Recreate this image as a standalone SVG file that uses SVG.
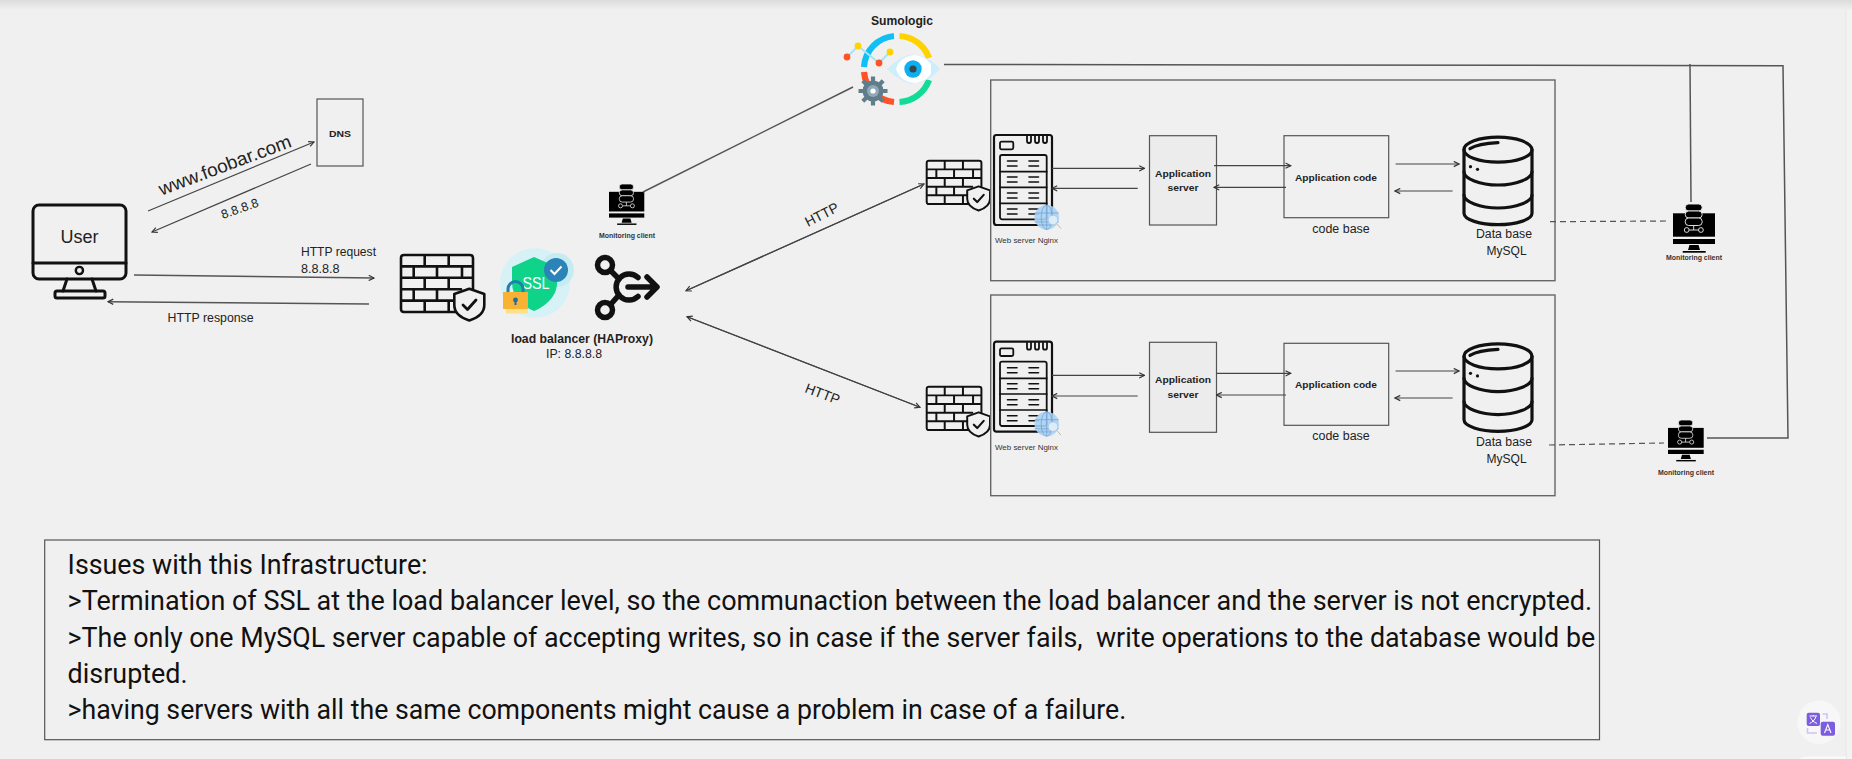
<svg xmlns="http://www.w3.org/2000/svg" width="1852" height="759" viewBox="0 0 1852 759">
<style>
text{font-family:"Liberation Sans",Arial,sans-serif;fill:#222;}
.b{font-weight:bold;}
.m{text-anchor:middle;}
.small{font-size:7.5px;fill:#333;}
.lab{font-size:13px;}
.issue{font-family:Roboto,"Liberation Sans",sans-serif;font-size:27px;fill:#111;}
.box{fill:none;stroke:#666;stroke-width:1.4;}
.cbox{fill:none;stroke:#555;stroke-width:1.2;}
.con{fill:none;stroke:#444;stroke-width:1.2;}
.thick{fill:none;stroke:#555;stroke-width:1.5;}
.arr{marker-end:url(#ah);}
.dash{fill:none;stroke:#555;stroke-width:1.2;stroke-dasharray:6 4;}
.ic{fill:none;stroke:#111;stroke-linecap:round;stroke-linejoin:round;}
</style>
<defs>
<linearGradient id="topg" x1="0" y1="0" x2="0" y2="1"><stop offset="0" stop-color="#dcdcdc"/><stop offset="1" stop-color="#f0f0f0"/></linearGradient>
<marker id="ah" viewBox="0 0 8 8" refX="7" refY="4" markerWidth="7" markerHeight="7" markerUnits="userSpaceOnUse" orient="auto"><path d="M1,1 L7,4 L1,7" fill="none" stroke="#333" stroke-width="1.3"/></marker>
<g id="wall">
<path class="ic" stroke-width="2.6" d="M55,57 H3 Q0,57 0,54 V3 Q0,0 3,0 H69 Q72,0 72,3 V35 M0,11.4 H72 M0,22.8 H72 M0,34.2 H60 M0,45.6 H55 M23.7,0 V11.4 M47.7,0 V11.4 M12.7,11.4 V22.8 M36,11.4 V22.8 M61,11.4 V22.8 M23.7,22.8 V34.2 M47.7,22.8 V34.2 M12.7,34.2 V45.6 M36,34.2 V45.6 M23.7,45.6 V57 M47.7,45.6 V57"/>
<path d="M68.3,33.7 L83.3,39 V50 C83.3,58 76,63 68.3,65.5 C60.6,63 53.3,58 53.3,50 V39 Z" fill="#f0f0f0" stroke="#111" stroke-width="2.6" stroke-linejoin="round"/>
<path class="ic" stroke-width="2.8" d="M62,50 L66.5,54.5 L75,45"/>
</g>
<g id="client">
<rect x="0" y="9.3" width="42" height="23.4" fill="#000"/>
<rect x="0" y="35" width="42" height="5" fill="#000"/>
<path d="M16.5,41 H25.5 L27,46 H15 Z" fill="#000"/>
<rect x="9.7" y="47" width="23" height="1.7" fill="#000"/>
<g stroke="#f0f0f0" stroke-width="0.9" fill="#000">
<rect x="12.2" y="0" width="17" height="7" rx="3.5"/>
<rect x="12.2" y="7" width="17" height="7" rx="3.5"/>
<rect x="12.2" y="14" width="17" height="7.5" rx="3.5"/>
<path d="M20.7,21.5 V26 M16,26 H25.5" fill="none"/>
<circle cx="13.7" cy="26" r="2.4"/>
<circle cx="27.9" cy="26" r="2.4"/>
</g>
</g>
<g id="web">
<path class="ic" stroke-width="2.2" d="M2.5,0 H55.5 Q58,0 58,2.5 V87.5 Q58,90 55.5,90 H2.5 Q0,90 0,87.5 V2.5 Q0,0 2.5,0 Z"/>
<rect class="ic" stroke-width="1.8" x="6" y="6.7" width="13.3" height="7.6" rx="1.5"/>
<path class="ic" stroke-width="1.8" d="M33,1 V6 Q33,8 35,8 Q37,8 37,6 V1 M41,1 V6 Q41,8 43,8 Q45,8 45,6 V1 M49,1 V6 Q49,8 51,8 Q53,8 53,6 V1"/>
<rect class="ic" stroke-width="1.8" x="6" y="20" width="46.7" height="64.3" rx="2"/>
<path class="ic" stroke-width="1.7" d="M6,36.7 H52.7 M6,52.3 H52.7 M6,68.3 H52.7"/>
<path class="ic" stroke-width="1.6" d="M13.5,26 H23 M35,26 H44.5 M13.5,31 H23 M35,31 H44.5 M13.5,42 H23 M35,42 H44.5 M13.5,47 H23 M35,47 H44.5 M13.5,58 H23 M35,58 H44.5 M13.5,63 H23 M35,63 H44.5 M13.5,74 H23 M35,74 H44.5 M13.5,79 H23 M35,79 H44.5"/>
<circle cx="52.7" cy="82.3" r="12.3" fill="#a9d2f5" opacity="0.9"/>
<g fill="none" stroke="#6d9fd0" stroke-width="0.7"><ellipse cx="52.7" cy="82.3" rx="5.5" ry="12.3"/><path d="M52.7,70 V94.6 M40.6,78 H64.8 M40.6,87 H64.8"/></g>
<circle cx="59" cy="85" r="4.8" fill="#dcecf9" stroke="#a9c5dc" stroke-width="0.8"/>
<path d="M62.5,88.5 L67,93.5" stroke="#bbb" stroke-width="1"/>
</g>
<g id="db">
<g class="ic" stroke-width="3.2">
<ellipse cx="36" cy="14" rx="34" ry="12.5"/>
<path d="M2,14 V77.5 C2,84 18,89 36,89 C54,89 70,84 70,77.5 V14"/>
<path d="M2,36 C2,43 18,49.3 36,49.3 C54,49.3 70,43 70,36"/>
<path d="M2,59.3 C2,66 18,72.3 36,72.3 C54,72.3 70,66 70,59.3"/>
<path d="M8,13 Q16,8 36,7"/>
</g>
<circle cx="8.5" cy="31" r="1.6" fill="#111"/><circle cx="15.5" cy="33.6" r="1.6" fill="#111"/>
</g>
</defs>

<rect width="1852" height="759" fill="#f0f0f0"/>
<rect width="1852" height="10" fill="url(#topg)"/>
<rect x="1846" y="10" width="6" height="749" fill="#f3f3f3"/>
<path d="M1846,10 V759" stroke="#e6e6e6" stroke-width="1"/>
<path d="M1800,759 Q1802,756.5 1810,756.5 H1846 V759 Z" fill="#f9f9f9"/>

<g id="user">
<rect class="ic" stroke-width="3" x="33" y="205" width="93" height="74" rx="6"/>
<path class="ic" stroke-width="3" d="M33,263 H126"/>
<circle cx="79.4" cy="270.5" r="3.6" fill="none" stroke="#111" stroke-width="2.4"/>
<path class="ic" stroke-width="3" d="M67,279 L63,291 M92,279 L96,291"/>
<rect class="ic" stroke-width="3" x="55" y="291" width="50" height="7" rx="2"/>
<text class="m" x="79.4" y="243" font-size="18" textLength="38" lengthAdjust="spacingAndGlyphs">User</text>
</g>

<g id="dns">
<rect class="cbox" x="317" y="99" width="46" height="67"/>
<text class="b m" x="340" y="137" font-size="9.5" textLength="22" lengthAdjust="spacingAndGlyphs">DNS</text>
</g>

<use id="firewall-1" href="#wall" transform="translate(401,255)"/>

<g id="ssl">
<circle cx="535" cy="283" r="35" fill="#d6f2f7"/>
<circle cx="557" cy="270" r="17" fill="#c6ecf3"/>
<path d="M534,257 L557,267 V283 C557,296 546,306 534,311 C522,306 512,296 512,283 V267 Z" fill="#10d38a"/>
<circle cx="556" cy="270" r="12" fill="#2b84b8"/>
<path d="M550.5,270 L554.5,274 L561.5,266.5" fill="none" stroke="#fff" stroke-width="2"/>
<text class="m" x="536" y="289" font-size="17" style="fill:#fff" textLength="27" lengthAdjust="spacingAndGlyphs">SSL</text>
<path d="M508,293 V289 A7.5,7.5 0 0 1 523,289 V293" fill="none" stroke="#1f7fae" stroke-width="3"/>
<rect x="503" y="292" width="25" height="17" fill="#f9b233"/>
<rect x="506" y="309" width="22" height="4.5" fill="#fde08a"/>
<circle cx="515.5" cy="300" r="2.4" fill="#1f6f9e"/><rect x="514.5" y="300" width="2" height="5" fill="#1f6f9e"/>
</g>

<g id="load-balancer">
<g class="ic" stroke-width="5.5">
<circle cx="605" cy="265" r="7.5"/>
<circle cx="605" cy="310" r="7.5"/>
<path d="M611,271 L619,279 M611,304 L619,295"/>
<path d="M638,277.5 A13,13 0 1 0 638,296.5"/>
<path d="M628,287 H656 M647,277 L657,287 L647,297"/>
</g>
<text class="b m" x="582" y="343" font-size="12.5" textLength="142" lengthAdjust="spacingAndGlyphs">load balancer (HAProxy)</text>
<text class="m" x="574" y="358" font-size="12.5" textLength="56" lengthAdjust="spacingAndGlyphs">IP: 8.8.8.8</text>
</g>

<g id="monitoring-client-1">
<use href="#client" transform="translate(609,184) scale(0.84)"/>
<text class="small b m" x="627" y="238" textLength="56" lengthAdjust="spacingAndGlyphs">Monitoring client</text>
</g>

<g id="sumologic">
<text class="b m" x="902" y="25" font-size="12.5" textLength="62" lengthAdjust="spacingAndGlyphs">Sumologic</text>
<g fill="none" stroke-width="6.2">
<path d="M864,67 A33,33 0 0 1 894,36" stroke="#10c0f5"/>
<path d="M899.5,36 A33,33 0 0 1 929,58" stroke="#ffd200"/>
<path d="M929,80 A33,33 0 0 1 899.5,102" stroke="#10dc96"/>
<path d="M894,102 A33,33 0 0 1 864,72" stroke="#ff5226"/>
</g>
<path d="M847,57 L858,46 L879,63 L890,52" fill="none" stroke="#a8e2f5" stroke-width="2"/>
<circle cx="847" cy="57" r="3.4" fill="#ff5226"/><circle cx="858" cy="46" r="3.4" fill="#ffd200"/><circle cx="879" cy="63" r="3.4" fill="#ff5226"/><circle cx="890" cy="52" r="3.4" fill="#ffd200"/>
<path d="M887,69 Q905,52 917,55 Q930,57 940,69 Q930,81 917,83 Q905,86 887,69 Z" fill="#cdeefb"/>
<path d="M896,69 Q900,56 915,55 Q925,56 931,64 V74 Q925,82 915,83 Q900,82 896,69 Z" fill="#fff"/>
<circle cx="913" cy="69" r="8.7" fill="#0cb0ee"/><circle cx="913" cy="69" r="3.6" fill="#37474f"/>
<g id="gear"><circle cx="873" cy="91" r="10.5" fill="#607d8b"/>
<g stroke="#607d8b" stroke-width="4.2"><path d="M873,76.5 V105.5 M858.5,91 H887.5 M862.8,80.8 L883.2,101.2 M883.2,80.8 L862.8,101.2"/></g>
<circle cx="873" cy="91" r="6" fill="#90a9b5"/><circle cx="873" cy="91" r="2.6" fill="#fff"/></g>
</g>

<use id="firewall-2" href="#wall" transform="translate(926.7,160.7) scale(0.76)"/>
<use id="firewall-3" href="#wall" transform="translate(926.7,386.7) scale(0.76)"/>

<g id="server-1">
<rect class="box" x="990.7" y="80" width="564.3" height="200.7"/>
<use href="#web" x="994" y="135"/>
<text x="995" y="242.7" font-size="8" style="fill:#333" textLength="63" lengthAdjust="spacingAndGlyphs">Web server Nginx</text>
<g id="app-server-1"><rect class="cbox" x="1149.5" y="135.7" width="67" height="89.3" style="fill:#ececec"/>
<text class="b m" x="1183" y="176.7" font-size="9.5" textLength="56" lengthAdjust="spacingAndGlyphs">Application</text>
<text class="b m" x="1183" y="190.7" font-size="9.5" textLength="31" lengthAdjust="spacingAndGlyphs">server</text></g>
<g id="app-code-1"><rect class="cbox" x="1284" y="135.7" width="104.7" height="82"/>
<text class="b m" x="1336" y="180.7" font-size="9.5" textLength="82" lengthAdjust="spacingAndGlyphs">Application code</text></g>
<text class="m" x="1341" y="232.7" font-size="12.5" textLength="57.4" lengthAdjust="spacingAndGlyphs">code base</text>
<use href="#db" x="1462" y="135.7"/>
<text class="m" x="1504" y="238.3" font-size="12.5" textLength="56" lengthAdjust="spacingAndGlyphs">Data base</text>
<text class="m" x="1506.6" y="255.3" font-size="12.5" textLength="40" lengthAdjust="spacingAndGlyphs">MySQL</text>
</g>

<g id="server-2">
<rect class="box" x="990.7" y="295" width="564.3" height="200.7"/>
<use href="#web" x="994" y="341.7"/>
<text x="995" y="450" font-size="8" style="fill:#333" textLength="63" lengthAdjust="spacingAndGlyphs">Web server Nginx</text>
<g id="app-server-2"><rect class="cbox" x="1149.5" y="342.3" width="67" height="90" style="fill:#ececec"/>
<text class="b m" x="1183" y="383.3" font-size="9.5" textLength="56" lengthAdjust="spacingAndGlyphs">Application</text>
<text class="b m" x="1183" y="397.7" font-size="9.5" textLength="31" lengthAdjust="spacingAndGlyphs">server</text></g>
<g id="app-code-2"><rect class="cbox" x="1284" y="343.3" width="104.7" height="82"/>
<text class="b m" x="1336" y="387.7" font-size="9.5" textLength="82" lengthAdjust="spacingAndGlyphs">Application code</text></g>
<text class="m" x="1341" y="440" font-size="12.5" textLength="57.4" lengthAdjust="spacingAndGlyphs">code base</text>
<use href="#db" x="1462" y="342.3"/>
<text class="m" x="1504" y="445.7" font-size="12.5" textLength="56" lengthAdjust="spacingAndGlyphs">Data base</text>
<text class="m" x="1506.6" y="462.7" font-size="12.5" textLength="40" lengthAdjust="spacingAndGlyphs">MySQL</text>
</g>

<g id="monitoring-client-2">
<use href="#client" transform="translate(1673,204)"/>
<text class="small b m" x="1694" y="260" textLength="56" lengthAdjust="spacingAndGlyphs">Monitoring client</text>
</g>
<g id="monitoring-client-3">
<use href="#client" transform="translate(1668,420) scale(0.85)"/>
<text class="small b m" x="1686" y="475" textLength="56" lengthAdjust="spacingAndGlyphs">Monitoring client</text>
</g>

<g id="connectors">
<path class="con arr" d="M148,211 L314,142"/>
<path class="con arr" d="M311,164 L152,232"/>
<path class="thick arr" d="M134,275 L374,278"/>
<path class="thick arr" d="M369,304 L108,301.7"/>
<path class="con arr" d="M686,290.7 L924,184"/>
<path class="con arr" d="M924,184 L686,290.7"/>
<path class="con arr" d="M687,316.7 L920,407.3"/>
<path class="con arr" d="M920,407.3 L687,316.7"/>
<path class="thick" d="M643,192 L853,87"/>
<path class="thick" d="M944,64.5 L1783,65.7 L1788,438 L1707,438"/>
<path class="thick" d="M1690,64 L1691,202"/>
<path class="dash" d="M1550,221.7 L1668,221"/>
<path class="dash" d="M1549,445 L1664,443"/>
<path class="con arr" d="M1052,168.3 H1144.5"/>
<path class="con arr" d="M1137.7,188.3 H1052"/>
<path class="con arr" d="M1214,165.7 H1290.8"/>
<path class="con arr" d="M1286,187.3 H1214"/>
<path class="con arr" d="M1395.6,164 H1459"/>
<path class="con arr" d="M1452.6,191 H1395"/>
<path class="con arr" d="M1052,375.3 H1144.5"/>
<path class="con arr" d="M1137.7,396 H1052"/>
<path class="con arr" d="M1216.5,373.3 H1290.8"/>
<path class="con arr" d="M1286,395 H1216.5"/>
<path class="con arr" d="M1395.6,371 H1459"/>
<path class="con arr" d="M1452.6,398 H1395"/>
</g>

<g id="connector-labels">
<text transform="translate(161.6,195.7) rotate(-20.6)" font-size="18.5" textLength="140" lengthAdjust="spacingAndGlyphs">www.foobar.com</text>
<text transform="translate(222.7,219) rotate(-19)" font-size="12.5" textLength="39" lengthAdjust="spacingAndGlyphs">8.8.8.8</text>
<text class="lab" x="301" y="256" textLength="75" lengthAdjust="spacingAndGlyphs">HTTP request</text>
<text class="lab" x="301" y="273" textLength="38.6" lengthAdjust="spacingAndGlyphs">8.8.8.8</text>
<text class="lab" x="167.6" y="321.7" textLength="86" lengthAdjust="spacingAndGlyphs">HTTP response</text>
<text transform="translate(808,227) rotate(-27)" font-size="14" textLength="36" lengthAdjust="spacingAndGlyphs">HTTP</text>
<text transform="translate(804,392) rotate(21)" font-size="14" textLength="36" lengthAdjust="spacingAndGlyphs">HTTP</text>
</g>

<g id="issues">
<rect x="44.7" y="540" width="1554.8" height="199.7" fill="none" stroke="#555" stroke-width="1.2"/>
<text class="issue" x="67.6" y="574.3" textLength="360" lengthAdjust="spacingAndGlyphs">Issues with this Infrastructure:</text>
<text class="issue" x="67.6" y="610" textLength="1524.6" lengthAdjust="spacingAndGlyphs">&gt;Termination of SSL at the load balancer level, so the communaction between the load balancer and the server is not encrypted.</text>
<text class="issue" x="67.6" y="647" textLength="1527.6" lengthAdjust="spacingAndGlyphs" xml:space="preserve">&gt;The only one MySQL server capable of accepting writes, so in case if the server fails,  write operations to the database would be</text>
<text class="issue" x="67.6" y="683.3" textLength="120" lengthAdjust="spacingAndGlyphs">disrupted.</text>
<text class="issue" x="67.6" y="719" textLength="1058.7" lengthAdjust="spacingAndGlyphs">&gt;having servers with all the same components might cause a problem in case of a failure.</text>
</g>

<g id="translate-button">
<circle cx="1819" cy="722.3" r="21.7" fill="#f7f7f7"/>
<rect x="1806.7" y="712.7" width="13.3" height="13.3" rx="2" fill="#7c5ce0"/>
<rect x="1820.7" y="721.7" width="14.3" height="14" rx="2" fill="#7c5ce0"/>
<path d="M1809.5,716 H1817 M1813.2,715 V716 M1816,716.5 C1815,720 1812,722.5 1809.5,723.5 M1810.5,717.5 C1811.5,720 1814,722.5 1817,723.5" fill="none" stroke="#fff" stroke-width="1"/>
<path d="M1824.5,733 L1827.8,724.5 L1831,733 M1825.7,730 H1830" fill="none" stroke="#fff" stroke-width="1.1"/>
<path d="M1822.5,714 H1827 V719 M1807.5,728 V733 H1817" fill="none" stroke="#cfc3f3" stroke-width="1.6"/>
</g>
</svg>
